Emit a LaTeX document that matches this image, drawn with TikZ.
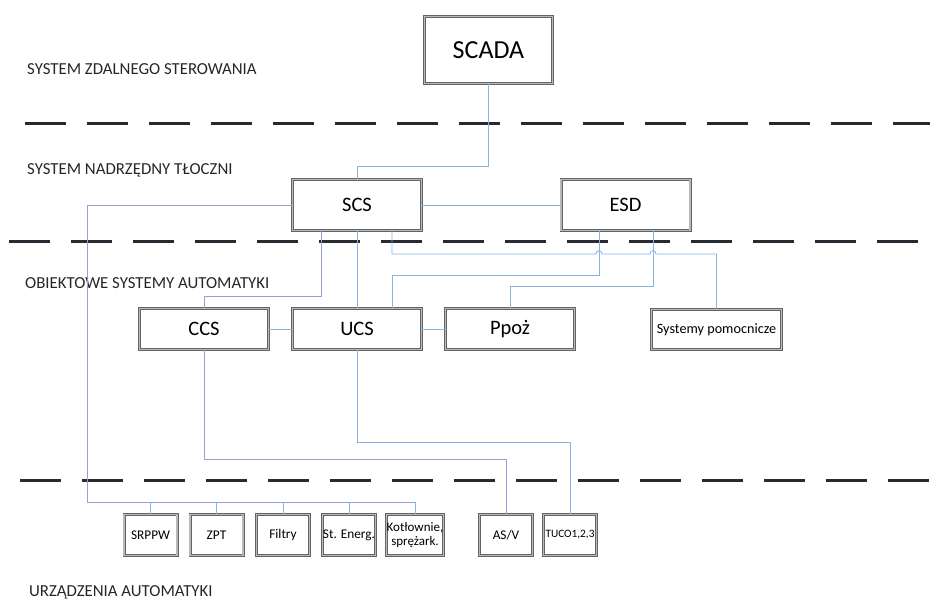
\documentclass[tikz,border=0pt]{standalone}
\usepackage{fontspec}
\setmainfont{Carlito}
\definecolor{connblue}{RGB}{135,180,228}
\definecolor{connpurple}{RGB}{150,160,212}
\definecolor{dashcol}{RGB}{40,42,50}
\definecolor{boxline}{RGB}{100,100,100}
\definecolor{boxmid}{RGB}{185,185,185}
\begin{document}
\begin{tikzpicture}[x=1pt,y=-1pt,
  box/.style={draw=boxline, double=boxmid, double distance=1.4pt, line width=0.8pt, fill=white, inner sep=0pt, align=center},
  bigbox/.style={box, minimum width=129, minimum height=51, font=\fontsize{20.5}{24}\selectfont},
  midbox/.style={box, minimum width=129, minimum height=41, font=\fontsize{20.5}{24}\selectfont},
  smallbox/.style={box, minimum width=53, minimum height=41, font=\fontsize{13.3}{15}\selectfont},
  conn/.style={draw=connblue, line width=0.9pt},
  conn2/.style={draw=connpurple, line width=0.9pt},
  sepline/.style={draw=dashcol, line width=3pt, dash pattern=on 41pt off 21pt},
  lvl/.style={anchor=base west, inner sep=0pt, font=\fontsize{16.8}{19}\selectfont, text=black!85}]
\useasboundingbox (0,0) rectangle (930,601);

% level separators
\draw[sepline] (25,124) -- (930,124);
\draw[sepline] (9,242) -- (918,242);
\draw[sepline] (20,481) -- (930,481);

% level labels
\node[lvl] (l1) at (27,75) {SYSTEM ZDALNEGO STEROWANIA};
\node[lvl] (l2) at (27,175) {SYSTEM NADRZĘDNY TŁOCZNI};
\node[lvl] (l3) at (25,289) {OBIEKTOWE SYSTEMY AUTOMATYKI};
\node[lvl] (l4) at (29,596.5) {URZĄDZENIA AUTOMATYKI};

% nodes
\node[box, minimum width=128, minimum height=67, font=\fontsize{26}{30}\selectfont] (SCADA) at (488.5,50) {SCADA};
\node[bigbox] (SCS) at (357,205) {SCS};
\node[bigbox] (ESD) at (625.5,205) {ESD};
\node[midbox] (CCS) at (204,329) {CCS};
\node[midbox] (UCS) at (357,329) {UCS};
\node[midbox] (PPOZ) at (510,329) {Ppoż};
\node[box, minimum width=130, minimum height=40, font=\fontsize{14.2}{17}\selectfont] (SYSP) at (716.5,329.5) {Systemy pomocnicze};
\node[smallbox] (SRPPW) at (150.5,535) {SRPPW};
\node[smallbox] (ZPT) at (216.5,535) {ZPT};
\node[smallbox] (FILT) at (283,535) {Filtry};
\node[smallbox] (STE) at (349,535) {St. Energ.};
\node[smallbox, font=\fontsize{13}{14.5}\selectfont] (KOTL) at (415,535) {Kotłownie,\\sprężark.};
\node[smallbox] (ASV) at (506,535) {AS/V};
\node[smallbox, font=\fontsize{11.3}{13}\selectfont] (TUCO) at (570,535) {TUCO1,2,3};

% helper coordinates
\coordinate (y166) at (0,166);
\coordinate (y254) at (0,254);
\coordinate (y275) at (0,275);
\coordinate (y286) at (0,286);
\coordinate (y296) at (0,296);
\coordinate (y442) at (0,442);
\coordinate (y459) at (0,459);
\coordinate (x321) at (321,0);
\coordinate (x392) at (392,0);
\coordinate (x599) at (599,0);
\coordinate (x653) at (653,0);
\coordinate (bus) at (87,502);

% connectors
\draw[conn] (SCADA.south) -- (SCADA.south |- y166) -| (SCS.north);
\draw[conn] (SCS.east) -- (ESD.west);
\draw[conn2] (SCS.west) -| (bus) -- (bus -| KOTL.north);
\foreach \n in {SRPPW,ZPT,FILT,STE,KOTL}
  \draw[conn] (\n.north) -- (\n.north |- bus);
\draw[conn2] (SCS.south -| x321) -- (x321 |- y296) -| (CCS.north);
\draw[conn] (SCS.south) -- (UCS.north);
\draw[conn] (SCS.south -| x392) -- (x392 |- y254) -- (596,254)
  .. controls (596,249.5) and (602,249.5) .. (602,254) -- (650,254)
  .. controls (650,249.5) and (656,249.5) .. (656,254) -| (SYSP.north);
\draw[conn] (ESD.south -| x599) -- (x599 |- y275) -| (UCS.north -| x392);
\draw[conn] (ESD.south -| x653) -- (x653 |- y286) -| (PPOZ.north);
\draw[conn] (CCS.east) -- (UCS.west);
\draw[conn] (UCS.east) -- (PPOZ.west);
\draw[conn2] (CCS.south) -- (CCS.south |- y459) -| (ASV.north);
\draw[conn] (UCS.south) -- (UCS.south |- y442) -| (TUCO.north);
\end{tikzpicture}
\end{document}
